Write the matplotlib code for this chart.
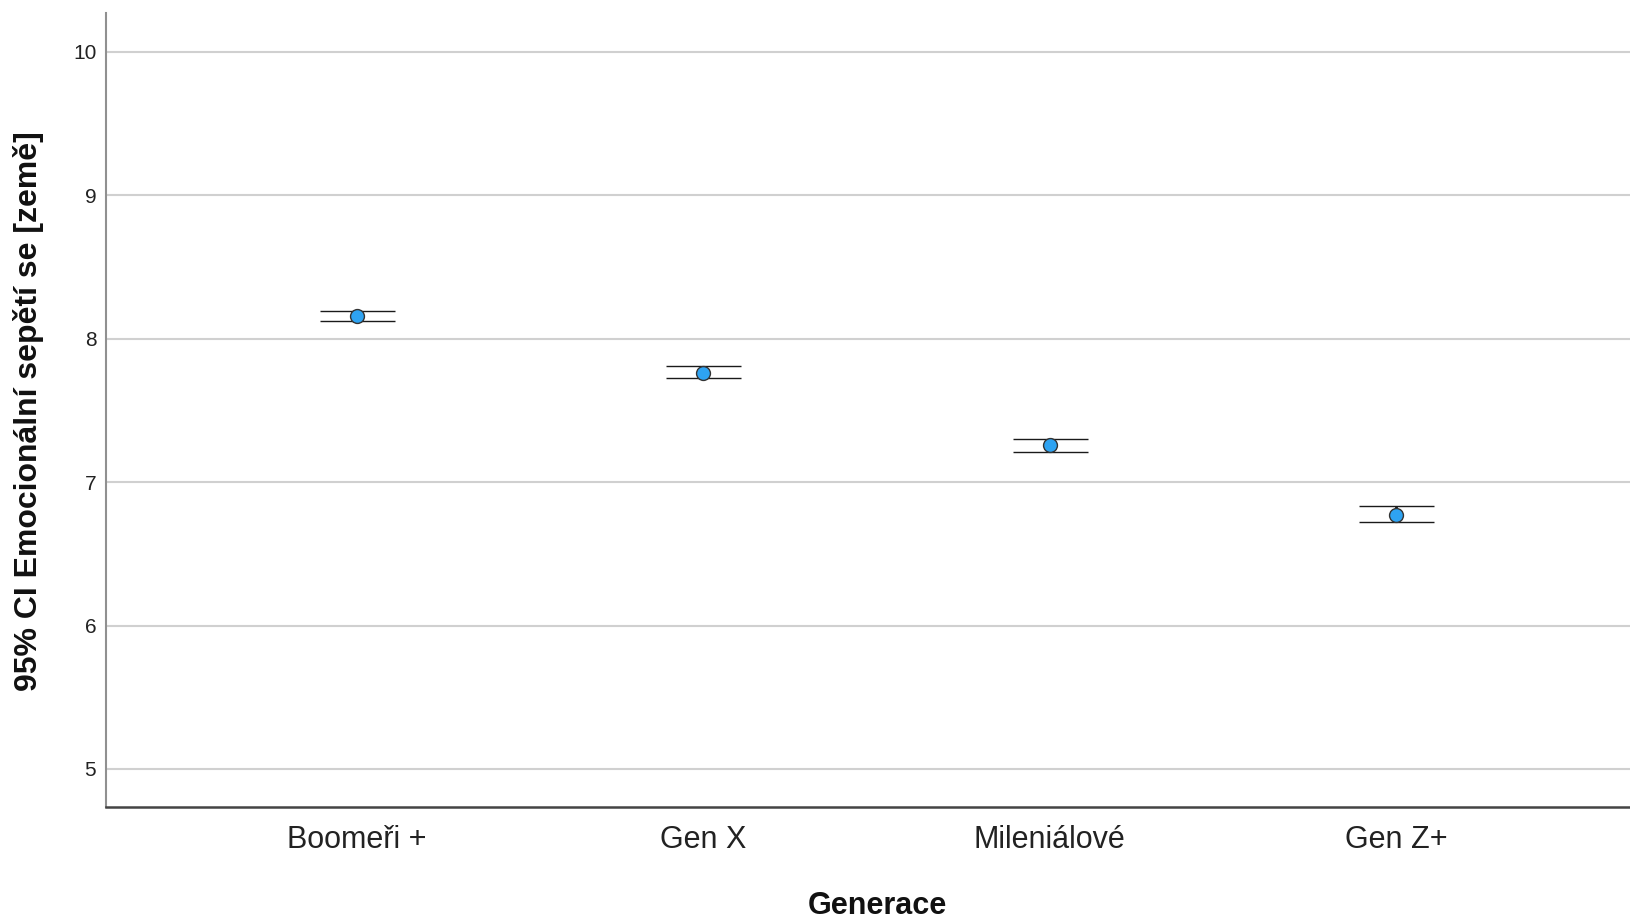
import numpy as np
import matplotlib.pyplot as plt

plt.rcParams['font.family'] = ['Liberation Sans', 'DejaVu Sans']

# 95% CI per generation
categories = ['Boomeři +', 'Gen X', 'Mileniálové', 'Gen Z+']
means = [8.156, 7.758, 7.256, 6.774]
ci_low = [8.122, 7.726, 7.207, 6.722]
ci_high = [8.194, 7.807, 7.297, 6.834]
yticks = [5, 6, 7, 8, 9, 10]

fig = plt.figure(figsize=(16.31, 9.19), dpi=100)
ax = fig.add_axes([106 / 1631, 112 / 919, 1 - 106 / 1631, (807 - 13) / 919])

x = np.arange(len(categories))
means = np.array(means)
yerr = [means - np.array(ci_low), np.array(ci_high) - means]

ax.errorbar(x, means, yerr=yerr, fmt='o', color='#1a1a1a', ecolor='#1a1a1a',
            elinewidth=2.0, capsize=27, capthick=2.0,
            markersize=10, markerfacecolor='#2ea3f2', markeredgecolor='#333333',
            markeredgewidth=1.0, zorder=3)

ax.set_xlim(-0.724, 3.678)
ax.set_ylim(4.735, 10.27)
ax.set_xticks(x)
ax.set_xticklabels(categories)
ax.set_yticks(yticks)
ax.set_yticklabels([str(t) for t in yticks])

ax.grid(axis='y', color='#d0d0d0', linewidth=1.5, zorder=0)
ax.set_axisbelow(True)

for side in ['top', 'right']:
    ax.spines[side].set_visible(False)
ax.spines['left'].set_color('#909090')
ax.spines['left'].set_linewidth(1.5)
ax.spines['bottom'].set_color('#444444')
ax.spines['bottom'].set_linewidth(1.8)

ax.tick_params(axis='x', length=0, pad=13, labelsize=22, labelcolor='#222222')
ax.tick_params(axis='y', length=0, pad=7, labelsize=15, labelcolor='#222222')

fig.text(877 / 1631, 5 / 919, 'Generace', ha='center', va='baseline',
         fontsize=22, fontweight='bold', color='#111111')
fig.text(29 / 1631, 1 - 411 / 919, '95% CI Emocionální sepětí se [země]',
         rotation=90, ha='center', va='center', fontsize=23,
         fontweight='bold', color='#111111')

fig.savefig('out.png', dpi=100)
